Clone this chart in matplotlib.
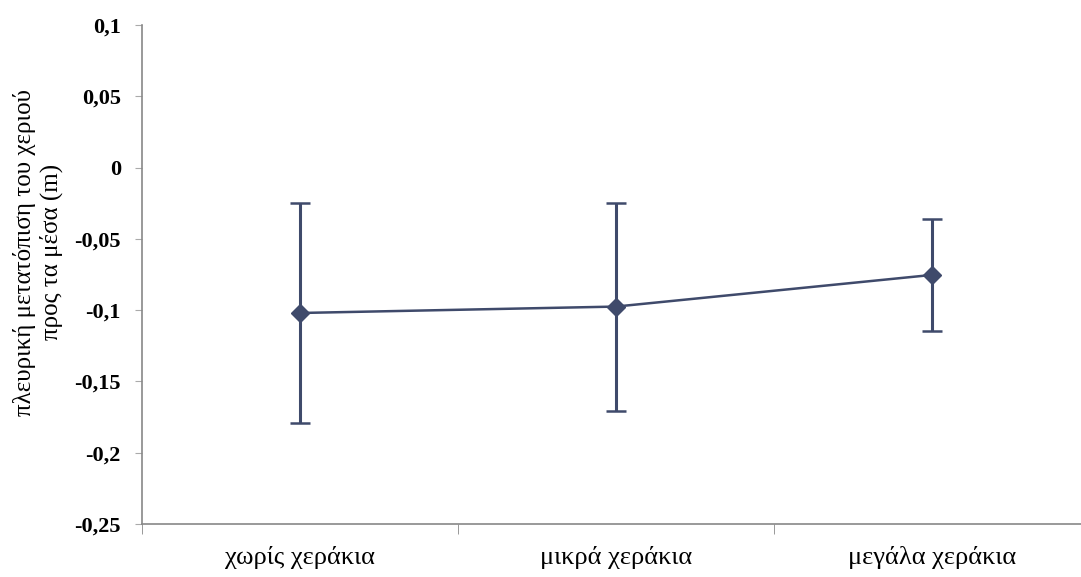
import numpy as np
import matplotlib.pyplot as plt
from matplotlib.ticker import FixedLocator

# data
categories = ['χωρίς χεράκια', 'μικρά χεράκια', 'μεγάλα χεράκια']
means = [-0.102, -0.0975, -0.0753]
errors = [0.0775, 0.073, 0.0395]
yticks = [0.1, 0.05, 0, -0.05, -0.1, -0.15, -0.2, -0.25]
ytick_labels = ['0,1', '0,05', '0', '-0,05', '-0,1', '-0,15', '-0,2', '-0,25']

plt.rcParams['font.family'] = ['Liberation Serif', 'DejaVu Serif']

W, H = 1081, 577
fig = plt.figure(figsize=(W / 100, H / 100), dpi=100)
ax = fig.add_axes([141.7 / W, 1 - 524 / H, (1090 - 141.7) / W, (524 - 25) / H])

color = '#3f4a6b'
x = np.arange(len(categories))
ax.errorbar(x, means, yerr=errors, color=color, lw=1.8, marker='D', ms=9,
            capsize=7, capthick=1.8, elinewidth=2.2)

ax.set_xlim(-0.5, 2.5)
ax.set_ylim(-0.25, 0.1)

ax.set_yticks(yticks)
ax.set_yticklabels(ytick_labels, fontsize=16, fontweight='bold')
ax.set_xticks(x)
ax.set_xticklabels(categories, fontsize=19)
ax.xaxis.set_minor_locator(FixedLocator([-0.5, 0.5, 1.5]))
ax.tick_params(axis='x', which='major', length=0, pad=16)
ax.tick_params(axis='x', which='minor', length=7, color='#888888', direction='out')
ax.tick_params(axis='y', length=5, color='#aaaaaa', pad=10)

for s in ['top', 'right']:
    ax.spines[s].set_visible(False)
for s in ['left', 'bottom']:
    ax.spines[s].set_color('#888888')
    ax.spines[s].set_linewidth(1.2)

fig.text(38 / W, 1 - 252 / H, 'πλευρική μετατόπιση του χεριού\nπρος τα μέσα (m)',
         rotation=90, ha='center', va='center', fontsize=18, multialignment='center',
         linespacing=1.25)

fig.savefig('out.png', dpi=100)
